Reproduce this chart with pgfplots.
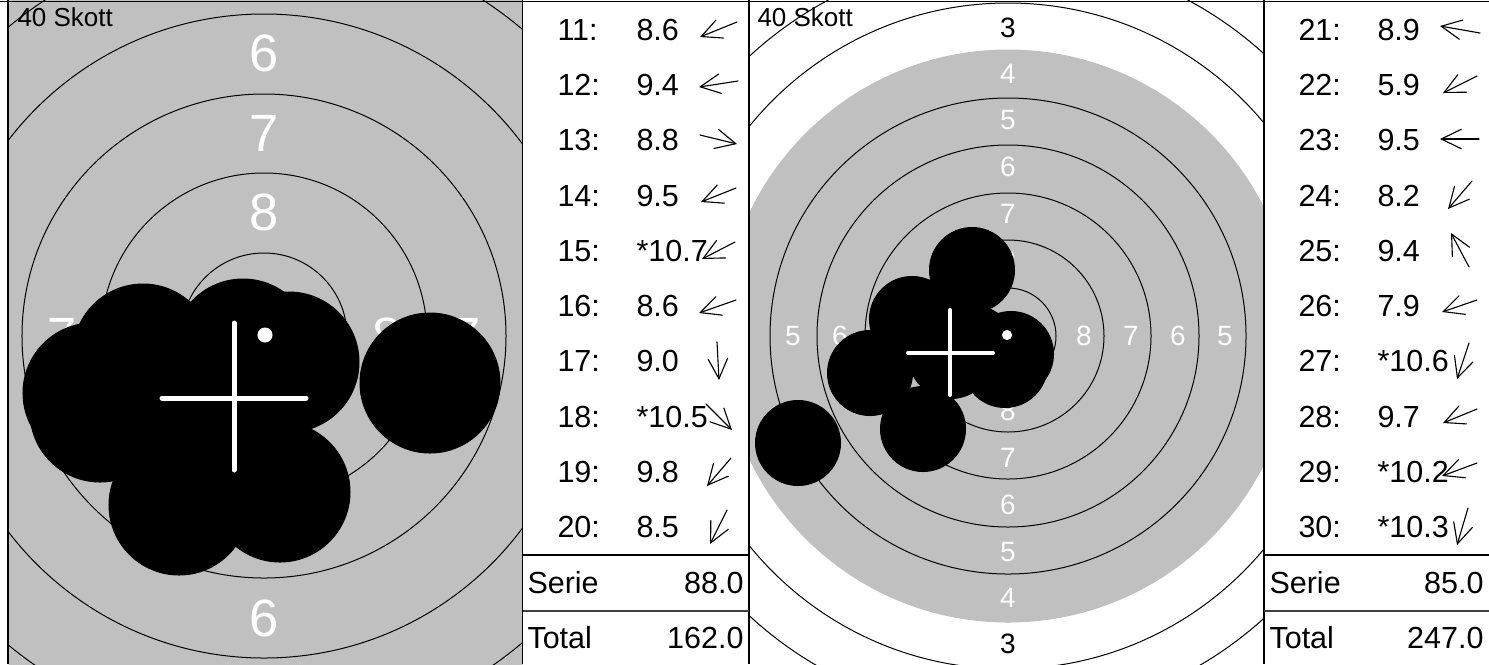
\documentclass[border=0pt]{standalone}
\usepackage{pgfplots}
\pgfplotsset{compat=1.18}
\usepackage{pgfplotstable}
\usepackage{fontspec}
\setmainfont{Liberation Sans}
\usetikzlibrary{arrows.meta}
\definecolor{tg}{RGB}{192,192,192}
\definecolor{dg}{RGB}{64,64,64}

% shots, series 2 (shots 11-20), pixel coordinates of the picture
\pgfplotstableread{
x y
100 412
143 354
430 383
150 377
243 349
93 393
280 492
289 362
201 409
179 505
}\shotsA
% shots, series 3 (shots 21-30)
\pgfplotstableread{
x y
912 319
798 443
938 335
923 429
972 270
870 373
1011 354
951 356
973 348
1005 365
}\shotsB
% ring centre and radii (pixels)
\pgfplotstableread{
x y r
264 336 83
264 336 163
264 336 242
264 336 322
264 336 401
}\ringsA
\pgfplotstableread{
x y r
1008 336 48
1008 336 96
1008 336 143
1008 336 191
1008 336 238
1008 336 333
1008 336 381
}\ringsB
% direction arrows in the tables (tail x, tail y, dx, dy)
\pgfplotstableread{
x y u v
737 22 -37 15
738 81 -39 6
700 135 37 9
736 188 -35 14
735 242 -33 17
736 300 -37 13
717 342 2 38
706 404 26 26
731 458 -24 28
727 510 -17 34
}\arrowsA
\pgfplotstableread{
x y u v
1480 33 -40 -7
1477 76 -34 17
1479 139 -39 0
1472 181 -24 28
1469 267 -18 -34
1477 300 -35 12
1469 343 -12 36
1477 409 -34 14
1477 463 -35 13
1468 508 -11 37
}\arrowsB

\pgfplotsset{
  panel/.style={x=0.4pt, y=0.4pt, y dir=reverse, hide axis, anchor=north west,
    clip marker paths=true, ymin=0, ymax=664},
  rings/.style={only marks, mark=o, scatter, point meta=explicit, scatter/use mapped color={draw=black},
    mark options={line width=0.4pt},
    visualization depends on={0.4*\thisrow{r} \as \rad},
    scatter/@pre marker code/.append style={/tikz/mark size=\rad}},
  dirarrow/.style={black, line width=0.45pt, line cap=round, quiver={u=\thisrow{u}, v=\thisrow{v}},
    -{Straight Barb[length=8pt, width=7.8pt, line cap=round]}},
}
\tikzset{
  bigL/.style={text=white, inner sep=0pt, font=\fontsize{21}{25}\selectfont},
  smallL/.style={text=white, inner sep=0pt, font=\fontsize{11.2}{13}\selectfont},
  tt/.style={inner sep=0pt, font=\fontsize{12.2}{14}\selectfont},
}

\begin{document}
\begin{tikzpicture}
\path[use as bounding box] (0,0) rectangle (595.6pt,-265.6pt);

% ---------------- left target ----------------
\begin{axis}[panel, xmin=8.5, xmax=522.5, at={(3.4pt,0pt)}]
\addplot[fill=tg, draw=none] coordinates {(0,0) (600,0) (600,700) (0,700)} -- cycle;
\addplot[rings] table[x=x, y=y, meta=r] {\ringsA};
\node[bigL] at (axis cs:264,53) {6};
\node[bigL] at (axis cs:264,133) {7};
\node[bigL] at (axis cs:264,212) {8};
\node[bigL] at (axis cs:264,459) {8};
\node[bigL] at (axis cs:264,538) {7};
\node[bigL] at (axis cs:264,618) {6};
\node[bigL] at (axis cs:62,336) {7};
\node[bigL] at (axis cs:141,336) {8};
\node[bigL] at (axis cs:387,336) {8};
\node[bigL] at (axis cs:466,336) {7};
\addplot[only marks, mark=*, mark size=28pt, black] table {\shotsA};
\addplot[only marks, mark=*, mark size=2.8pt, white] coordinates {(265,335)};
\addplot[white, line width=2pt, line cap=round] coordinates {(162,398) (306,398)};
\addplot[white, line width=2pt, line cap=round] coordinates {(234,323) (234,470)};
\node[anchor=base west, inner sep=0pt, font=\fontsize{10.4}{12}\selectfont] at (axis cs:17,26) {40 Skott};
\end{axis}

% ---------------- right target ----------------
\begin{axis}[panel, xmin=749, xmax=1264, at={(299.6pt,0pt)}]
\addplot[only marks, mark=*, mark size=114.4pt, color=tg] coordinates {(1008,336)};
\addplot[rings] table[x=x, y=y, meta=r] {\ringsB};
\node[smallL, text=black] at (axis cs:1008,28) {3};
\node[smallL] at (axis cs:1008,74) {4};
\node[smallL] at (axis cs:1008,120) {5};
\node[smallL] at (axis cs:1008,167) {6};
\node[smallL] at (axis cs:1008,214) {7};
\node[smallL] at (axis cs:1008,261) {8};
\node[smallL] at (axis cs:1008,411) {8};
\node[smallL] at (axis cs:1008,458) {7};
\node[smallL] at (axis cs:1008,505) {6};
\node[smallL] at (axis cs:1008,552) {5};
\node[smallL] at (axis cs:1008,598) {4};
\node[smallL, text=black] at (axis cs:1008,644) {3};
\node[smallL] at (axis cs:1084,336) {8};
\node[smallL] at (axis cs:1131,336) {7};
\node[smallL] at (axis cs:1178,336) {6};
\node[smallL] at (axis cs:1225,336) {5};
\node[smallL] at (axis cs:934,336) {8};
\node[smallL] at (axis cs:887,336) {7};
\node[smallL] at (axis cs:840,336) {6};
\node[smallL] at (axis cs:793,336) {5};
\addplot[only marks, mark=*, mark size=17pt, black] table {\shotsB};
\addplot[only marks, mark=*, mark size=1.8pt, white] coordinates {(1007,335)};
\addplot[white, line width=1.6pt, line cap=round] coordinates {(908,353) (993,353)};
\addplot[white, line width=1.6pt, line cap=round] coordinates {(950,310) (950,395)};
\node[anchor=base west, inner sep=0pt, font=\fontsize{10.4}{12}\selectfont] at (axis cs:757,26) {40 Skott};
\end{axis}

% ---------------- frames, tables ----------------
\begin{axis}[panel, xmin=0, xmax=1489, at={(0pt,0pt)}, clip=false]
\addplot[black, line width=0.5pt] coordinates {(0,1.5) (1489,1.5)};
\addplot[black, line width=0.6pt] coordinates {(8,0) (8,664)};
\addplot[black, line width=0.5pt] coordinates {(522.5,0) (522.5,664)};
\addplot[black, line width=0.5pt] coordinates {(749,0) (749,664)};
\addplot[black, line width=0.5pt] coordinates {(1264,0) (1264,664)};
\addplot[black, line width=0.5pt] coordinates {(522.5,555) (749,555)};
\addplot[black, line width=0.5pt] coordinates {(1264,555) (1489,555)};
\addplot[dg, line width=0.8pt] coordinates {(522.5,611) (749,611)};
\addplot[dg, line width=0.8pt] coordinates {(1264,611) (1489,611)};
\addplot[dirarrow] table {\arrowsA};
\addplot[dirarrow] table {\arrowsB};
% table 1
\node[tt, anchor=base west] at (axis cs:557,40) {11:};
\node[tt, anchor=base west] at (axis cs:557,95) {12:};
\node[tt, anchor=base west] at (axis cs:557,150) {13:};
\node[tt, anchor=base west] at (axis cs:557,206) {14:};
\node[tt, anchor=base west] at (axis cs:557,261) {15:};
\node[tt, anchor=base west] at (axis cs:557,316) {16:};
\node[tt, anchor=base west] at (axis cs:557,371) {17:};
\node[tt, anchor=base west] at (axis cs:557,427) {18:};
\node[tt, anchor=base west] at (axis cs:557,482) {19:};
\node[tt, anchor=base west] at (axis cs:557,537) {20:};
\node[tt, anchor=base west] at (axis cs:636,40) {8.6};
\node[tt, anchor=base west] at (axis cs:636,95) {9.4};
\node[tt, anchor=base west] at (axis cs:636,150) {8.8};
\node[tt, anchor=base west] at (axis cs:636,206) {9.5};
\node[tt, anchor=base west] at (axis cs:636,261) {*10.7};
\node[tt, anchor=base west] at (axis cs:636,316) {8.6};
\node[tt, anchor=base west] at (axis cs:636,371) {9.0};
\node[tt, anchor=base west] at (axis cs:636,427) {*10.5};
\node[tt, anchor=base west] at (axis cs:636,482) {9.8};
\node[tt, anchor=base west] at (axis cs:636,537) {8.5};
\node[tt, anchor=base west] at (axis cs:527,593) {Serie};
\node[tt, anchor=base east] at (axis cs:744,593) {88.0};
\node[tt, anchor=base west] at (axis cs:527,648) {Total};
\node[tt, anchor=base east] at (axis cs:744,648) {162.0};
% table 2
\node[tt, anchor=base west] at (axis cs:1298,40) {21:};
\node[tt, anchor=base west] at (axis cs:1298,95) {22:};
\node[tt, anchor=base west] at (axis cs:1298,150) {23:};
\node[tt, anchor=base west] at (axis cs:1298,206) {24:};
\node[tt, anchor=base west] at (axis cs:1298,261) {25:};
\node[tt, anchor=base west] at (axis cs:1298,316) {26:};
\node[tt, anchor=base west] at (axis cs:1298,371) {27:};
\node[tt, anchor=base west] at (axis cs:1298,427) {28:};
\node[tt, anchor=base west] at (axis cs:1298,482) {29:};
\node[tt, anchor=base west] at (axis cs:1298,537) {30:};
\node[tt, anchor=base west] at (axis cs:1377,40) {8.9};
\node[tt, anchor=base west] at (axis cs:1377,95) {5.9};
\node[tt, anchor=base west] at (axis cs:1377,150) {9.5};
\node[tt, anchor=base west] at (axis cs:1377,206) {8.2};
\node[tt, anchor=base west] at (axis cs:1377,261) {9.4};
\node[tt, anchor=base west] at (axis cs:1377,316) {7.9};
\node[tt, anchor=base west] at (axis cs:1377,371) {*10.6};
\node[tt, anchor=base west] at (axis cs:1377,427) {9.7};
\node[tt, anchor=base west] at (axis cs:1377,482) {*10.2};
\node[tt, anchor=base west] at (axis cs:1377,537) {*10.3};
\node[tt, anchor=base west] at (axis cs:1269,593) {Serie};
\node[tt, anchor=base east] at (axis cs:1484,593) {85.0};
\node[tt, anchor=base west] at (axis cs:1269,648) {Total};
\node[tt, anchor=base east] at (axis cs:1484,648) {247.0};
\end{axis}
\end{tikzpicture}
\end{document}
